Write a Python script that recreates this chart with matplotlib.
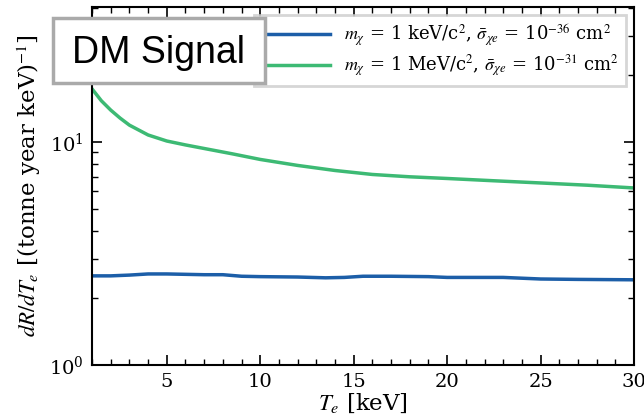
import numpy as np
import matplotlib.pyplot as plt
from matplotlib.patches import Rectangle

plt.rcParams['font.family'] = 'DejaVu Serif'
plt.rcParams['mathtext.fontset'] = 'stix'

# rates, each on its own recoil-energy grid [keV]
te_kev = [1, 2, 3, 4, 5, 6, 7, 8, 9, 10, 12, 13.5, 14.5, 15.5, 17, 19, 20, 23, 25, 27, 30]
rate_kev = [2.51, 2.51, 2.53, 2.56, 2.56, 2.55, 2.54, 2.54, 2.50, 2.49, 2.48, 2.46, 2.47,
            2.50, 2.50, 2.49, 2.47, 2.47, 2.43, 2.42, 2.41]
te_mev = [1, 1.5, 2, 2.5, 3, 4, 5, 6, 7, 8.5, 10, 12, 14, 16, 18, 20, 22.5, 25, 27.5, 30]
rate_mev = [17.3, 15.3, 13.9, 12.8, 11.9, 10.75, 10.1, 9.7, 9.35, 8.85, 8.35, 7.85, 7.45, 7.15,
            6.98, 6.86, 6.7, 6.55, 6.4, 6.22]

labels = [r'$m_\chi$ = 1 keV/c$^2$, $\bar{\sigma}_{\chi e}$ = 10$^{-36}$ cm$^2$',
          r'$m_\chi$ = 1 MeV/c$^2$, $\bar{\sigma}_{\chi e}$ = 10$^{-31}$ cm$^2$']
colors = ['#1c5ea8', '#3dba74']

fig = plt.figure(figsize=(6.44, 4.18), dpi=100)
ax = fig.add_axes([0.1429, 0.1268, 0.8416, 0.8565])

ax.plot(te_kev, rate_kev, color=colors[0], lw=2.5, label=labels[0])
ax.plot(te_mev, rate_mev, color=colors[1], lw=2.5, label=labels[1])

ax.set_yscale('log')
ax.set_xlim(1, 30)
ax.set_ylim(1, 40.3)
ax.set_xticks([5, 10, 15, 20, 25, 30])
ax.set_xticks(np.arange(1, 31), minor=True)

ax.tick_params(which='both', direction='in', top=True, right=True, labelsize=14, pad=6)
ax.tick_params(which='major', length=7, width=1.2)
ax.tick_params(which='minor', length=4, width=1)
for s in ax.spines.values():
    s.set_linewidth(1.5)

ax.set_xlabel(r'$T_e$ [keV]', fontsize=16.5, labelpad=0)
ax.set_ylabel(r'$dR/dT_e$ [(tonne year keV)$^{-1}$]', fontsize=16.5, labelpad=4)

leg = ax.legend(loc='upper right', fontsize=13, handlelength=3.8, frameon=True,
                fancybox=False, borderaxespad=0.45, labelspacing=0.3)
leg.get_frame().set_edgecolor('#cccccc')
leg.get_frame().set_linewidth(2)

# "DM Signal" tag box, drawn over the axes in figure coordinates
fig.patches.append(Rectangle((0.0823, 0.8014), 0.3292, 0.1555, transform=fig.transFigure,
                             fc='white', ec='#aaaaaa', lw=2.5, zorder=10))
fig.text(0.246, 0.849, 'DM Signal', family='Liberation Sans', fontsize=27,
         ha='center', va='baseline', zorder=11)

fig.savefig('out.png', dpi=100)
